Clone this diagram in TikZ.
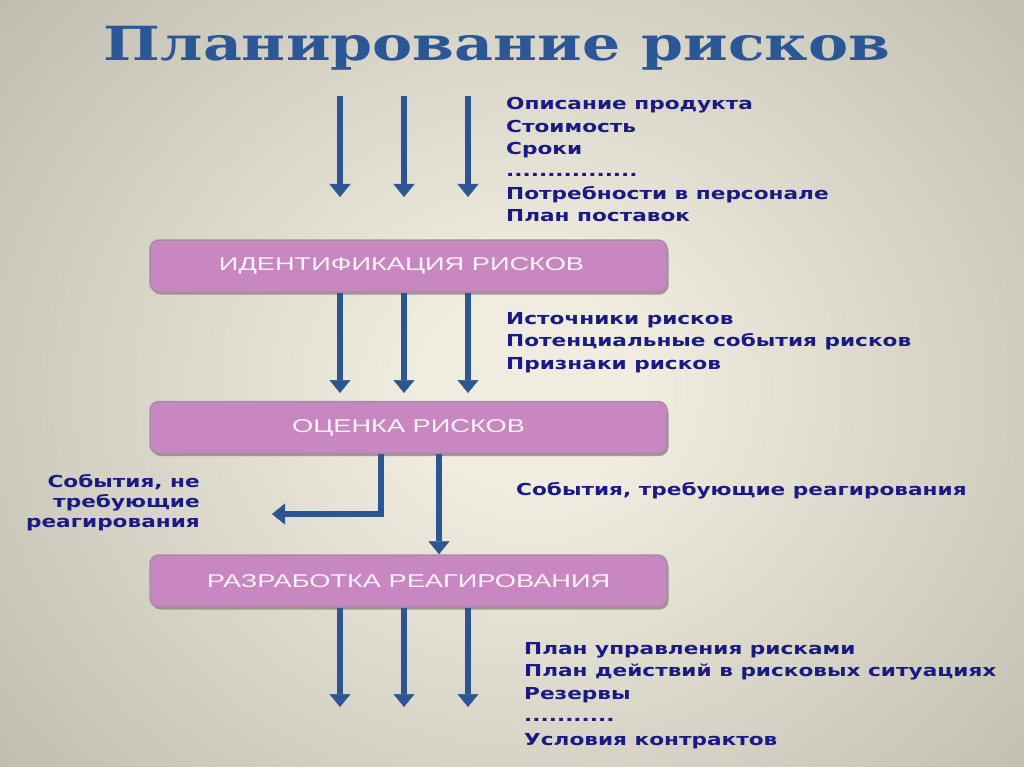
\documentclass[tikz,border=0pt]{standalone}
\usepackage{fontspec}
\setmainfont{DejaVu Sans}
\newfontfamily\titlefont[FakeStretch=1.28]{DejaVu Serif}
\newfontfamily\listfont[FakeStretch=1.31]{DejaVu Sans}
\newfontfamily\boxfont[FakeStretch=1.47]{Liberation Sans}
\usetikzlibrary{arrows.meta,shadows}
\definecolor{bgin}{HTML}{F0EDE0}
\definecolor{bgout}{HTML}{99968A}
\definecolor{boxpink}{HTML}{C887C0}
\definecolor{boxedge}{HTML}{A88CA2}
\definecolor{shadowgray}{HTML}{8C8782}
\definecolor{arrowblue}{HTML}{2C5592}
\definecolor{listnavy}{HTML}{1A1A85}
\definecolor{titleblue}{HTML}{2B5797}
\definecolor{boxtext}{HTML}{FBF3FA}
\pgfdeclareradialshading{bgshade}{\pgfpoint{0bp}{0bp}}{color(0bp)=(bgin); color(5bp)=(bgin); color(50bp)=(bgout)}
\begin{document}
\begin{tikzpicture}[x=1pt,y=-1pt,
  stagebox/.style={rounded corners=9pt, fill=boxpink, draw=boxedge, line width=1.5pt,
    minimum width=517pt, minimum height=52pt, inner sep=0pt,
    font=\boxfont\fontsize{18.5}{20}\selectfont, text=boxtext,
    general shadow={fill=shadowgray, opacity=0.8, shadow xshift=1.5pt, shadow yshift=-2.5pt}},
  listtext/.style={anchor=base west, inner sep=0pt, text=listnavy,
    font=\listfont\bfseries\fontsize{16.5}{19}\selectfont},
  sidetext/.style={anchor=base east, inner sep=0pt, text=listnavy,
    font=\listfont\bfseries\fontsize{16.5}{19}\selectfont},
  flow/.style={draw=arrowblue, line width=6pt, line join=miter,
    -{Triangle[width=21pt,length=13pt,line width=0.5pt]}}
]
\useasboundingbox (0,0) rectangle (1024,767);
\begin{scope}
\clip (0,0) rectangle (1024,767);
\shade[shading=bgshade] (-40,-120) rectangle (1100,900);
\end{scope}

% title
\node[anchor=base, inner sep=0pt, text=titleblue,
  font=\titlefont\bfseries\fontsize{47}{50}\selectfont] (title) at (497,61) {Планирование рисков};

% boxes
\node[stagebox] (b1) at (408.5,266) {ИДЕНТИФИКАЦИЯ РИСКОВ\hspace*{14pt}};
\node[stagebox] (b2) at (408.5,427.5) {ОЦЕНКА РИСКОВ};
\node[stagebox] (b3) at (408.5,581) {РАЗРАБОТКА РЕАГИРОВАНИЯ};

% x positions
\coordinate (xa) at (340,0);
\coordinate (xb) at (404,0);
\coordinate (xc) at (468,0);
\coordinate (xl) at (380.5,0);
\coordinate (xm) at (439,0);

% top input arrows
\coordinate (t1s) at (340,96);  \coordinate (t1e) at (340,197);
\coordinate (t2s) at (404,96);  \coordinate (t2e) at (404,197);
\coordinate (t3s) at (468,96);  \coordinate (t3e) at (468,197);
\draw[flow] (t1s) -- (t1e);
\draw[flow] (t2s) -- (t2e);
\draw[flow] (t3s) -- (t3e);

% box1 -> box2
\coordinate (m1e) at (340,393);
\coordinate (m2e) at (404,393);
\coordinate (m3e) at (468,393);
\draw[flow] (b1.south -| xa) -- (m1e);
\draw[flow] (b1.south -| xb) -- (m2e);
\draw[flow] (b1.south -| xc) -- (m3e);

% box2 -> side and box3
\coordinate (side) at (272,514);
\draw[flow] (b2.south -| xl) |- (side);
\draw[flow] (b2.south -| xm) -- (b3.north -| xm);

% output arrows
\coordinate (o1e) at (340,707);
\coordinate (o2e) at (404,707);
\coordinate (o3e) at (468,707);
\draw[flow] (b3.south -| xa) -- (o1e);
\draw[flow] (b3.south -| xb) -- (o2e);
\draw[flow] (b3.south -| xc) -- (o3e);

% input list
\node[listtext] (in1) at (506,110) {Описание продукта};
\node[listtext] (in2) at (506,132.5) {Стоимость};
\node[listtext] (in3) at (506,155) {Сроки};
\node[listtext] (in4) at (506,177) {................};
\node[listtext] (in5) at (506,199.5) {Потребности в персонале};
\node[listtext] (in6) at (506,222) {План поставок};

% identification outputs
\node[listtext] (id1) at (506,324) {Источники рисков};
\node[listtext] (id2) at (506,346.5) {Потенциальные события рисков};
\node[listtext] (id3) at (506,369) {Признаки рисков};

% evaluation outputs
\node[listtext] (ev1) at (516,495) {События, требующие реагирования};
\node[sidetext] (sd1) at (200,487) {События, не};
\node[sidetext] (sd2) at (200,507) {требующие};
\node[sidetext] (sd3) at (200,527) {реагирования};

% response outputs
\node[listtext] (rs1) at (524,654) {План управления рисками};
\node[listtext] (rs2) at (524,676.5) {План действий в рисковых ситуациях};
\node[listtext] (rs3) at (524,699) {Резервы};
\node[listtext] (rs4) at (524,721) {...........};
\node[listtext] (rs5) at (524,745) {Условия контрактов};
\end{tikzpicture}
\end{document}
